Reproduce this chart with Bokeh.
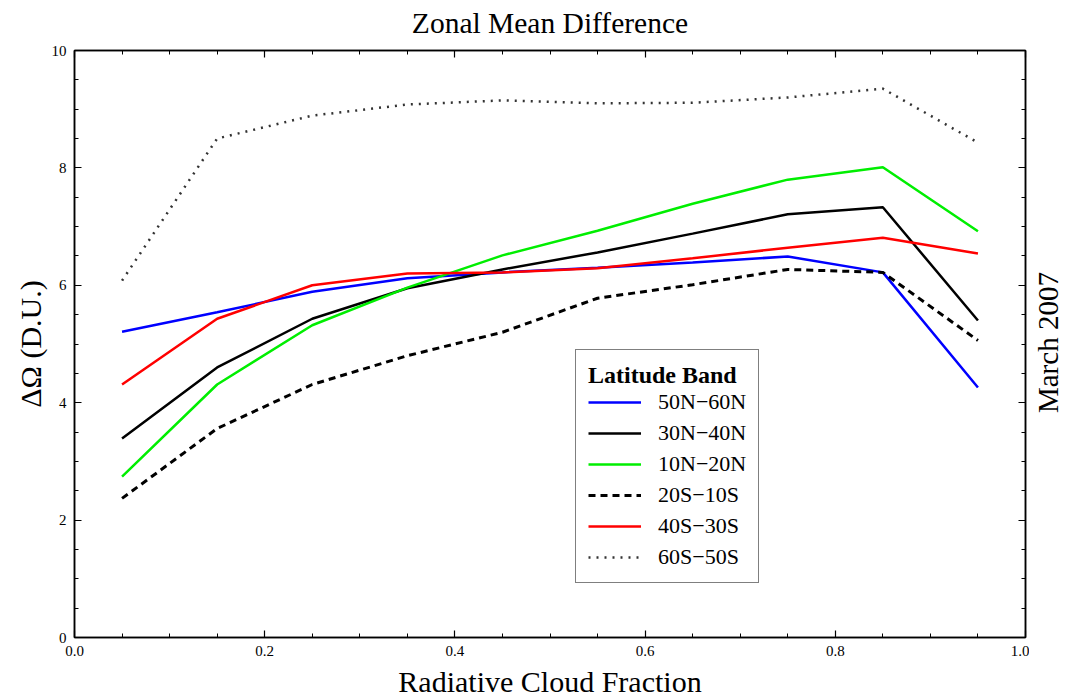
import math
from bokeh.plotting import figure
from bokeh.layouts import row, column
from bokeh.models import (LinearAxis, SingleIntervalTicker, Legend, LegendItem, Label,
                          Range1d, PrintfTickFormatter, CustomJSTickFormatter)
from bokeh.embed import file_html
from bokeh.resources import INLINE

# ---- data ----
cloud_fraction = [0.05, 0.15, 0.25, 0.35, 0.45, 0.55, 0.65, 0.75, 0.85, 0.95]
band_50N_60N = [5.21, 5.54, 5.89, 6.12, 6.22, 6.30, 6.39, 6.49, 6.22, 4.26]
band_30N_40N = [3.39, 4.60, 5.43, 5.95, 6.27, 6.56, 6.88, 7.21, 7.33, 5.40]
band_10N_20N = [2.74, 4.31, 5.32, 5.96, 6.51, 6.93, 7.39, 7.80, 8.01, 6.92]
band_20S_10S = [2.37, 3.56, 4.31, 4.80, 5.20, 5.78, 6.01, 6.27, 6.22, 5.06]
band_40S_30S = [4.31, 5.43, 6.00, 6.20, 6.22, 6.29, 6.46, 6.64, 6.81, 6.54]
band_60S_50S = [6.08, 8.50, 8.89, 9.08, 9.15, 9.10, 9.11, 9.20, 9.35, 8.43]

labels = ["50N\u221260N", "30N\u221240N", "10N\u221220N", "20S\u221210S", "40S\u221230S", "60S\u221250S"]
series = [band_50N_60N, band_30N_40N, band_10N_20N, band_20S_10S, band_40S_30S, band_60S_50S]
colors = ["#0000ff", "#000000", "#00ee00", "#000000", "#ff0000", "#333333"]
dashes = ["solid", "solid", "solid", "7 5", "solid", "2 6"]
widths = [2.5, 2.5, 2.5, 3, 2.5, 2.5]

FONT = "Liberation Serif"
TOP_H = 40
BOT_H = 35
MAIN_H = 700 - TOP_H - BOT_H          # 625
MAIN_W = 1029
SIDE_W = 1065 - MAIN_W               # 36
FRAME_TOP = 50                       # frame edges in page pixels
FRAME_BOTTOM = 637
FRAME_RIGHT = 1025

p = figure(width=MAIN_W, height=MAIN_H, output_backend="svg", toolbar_location=None,
           title=None,
           x_range=Range1d(0, 1), y_range=Range1d(0, 10),
           min_border_left=74, min_border_right=MAIN_W - FRAME_RIGHT,
           min_border_top=FRAME_TOP - TOP_H,
           min_border_bottom=TOP_H + MAIN_H - FRAME_BOTTOM)

p.xgrid.visible = False
p.ygrid.visible = False
p.outline_line_color = "black"
p.outline_line_width = 1.5
p.background_fill_color = "white"
p.border_fill_color = "white"

bottom = p.below[0]
left = p.left[0]

def style_axis(ax, show_labels=True):
    ax.axis_line_color = "black"
    ax.axis_line_width = 1.5
    ax.major_tick_in = 7
    ax.major_tick_out = 0
    ax.minor_tick_in = 4
    ax.minor_tick_out = 0
    ax.major_tick_line_color = "black"
    ax.minor_tick_line_color = "black"
    ax.major_tick_line_width = 1.2
    ax.major_label_text_font = FONT
    ax.major_label_text_color = "black"
    if show_labels:
        ax.major_label_text_font_size = "15px"
        ax.major_label_standoff = 8
    else:
        ax.formatter = CustomJSTickFormatter(code="return ''")
        ax.major_label_text_font_size = "1px"
        ax.major_label_standoff = 0

bottom.ticker = SingleIntervalTicker(interval=0.2, num_minor_ticks=4)
left.ticker = SingleIntervalTicker(interval=2, num_minor_ticks=4)
style_axis(bottom)
style_axis(left)
bottom.formatter = PrintfTickFormatter(format="%.1f")
left.axis_label = "\u0394\u03a9 (D.U.)"
left.axis_label_text_font = FONT
left.axis_label_text_font_size = "30px"
left.axis_label_text_font_style = "normal"
left.axis_label_text_color = "black"
left.axis_label_standoff = 2

top = LinearAxis(ticker=SingleIntervalTicker(interval=0.2, num_minor_ticks=4))
style_axis(top, show_labels=False)
p.add_layout(top, "above")
right = LinearAxis(ticker=SingleIntervalTicker(interval=2, num_minor_ticks=4))
style_axis(right, show_labels=False)
p.add_layout(right, "right")

items = []
for lab, ys, c, d, w in zip(labels, series, colors, dashes, widths):
    r = p.line(cloud_fraction, ys, line_color=c, line_width=w, line_dash=d)
    items.append(LegendItem(label=lab, renderers=[r]))

legend = Legend(items=items, location=(501, 54), title="Latitude Band",
                title_text_font=FONT, title_text_font_size="24px", title_text_font_style="bold",
                title_text_color="black",
                label_text_font=FONT, label_text_font_size="22px", label_text_color="black",
                border_line_color="black", border_line_width=1.5,
                glyph_width=53, glyph_height=20, label_height=20, spacing=5,
                padding=12, margin=0, title_standoff=0, label_standoff=17,
                background_fill_alpha=1.0)
p.add_layout(legend, "center")

def blank_panel(w, h):
    f = figure(width=w, height=h, output_backend="svg", toolbar_location=None,
               title=None,
               x_range=Range1d(0, w), y_range=Range1d(0, h),
               x_axis_location=None, y_axis_location=None,
               min_border_left=0, min_border_right=0, min_border_top=0, min_border_bottom=0)
    f.xgrid.visible = False
    f.ygrid.visible = False
    f.outline_line_color = None
    f.background_fill_color = "white"
    f.border_fill_color = "white"
    return f

# title strip
head = blank_panel(1065, TOP_H)
head.add_layout(Label(x=549.5, y=18, text="Zonal Mean Difference",
                      text_font=FONT, text_font_size="29.5px", text_color="black",
                      text_align="center", text_baseline="alphabetic"))

# right-hand rotated caption
side = blank_panel(SIDE_W, MAIN_H)
side.add_layout(Label(x=SIDE_W / 2, y=314, text="March 2007", angle=math.pi / 2,
                      text_font=FONT, text_font_size="29px", text_color="black",
                      text_align="center", text_baseline="middle"))

# x-axis caption strip
foot = blank_panel(1065, BOT_H)
foot.add_layout(Label(x=549.5, y=19, text="Radiative Cloud Fraction",
                      text_font=FONT, text_font_size="30px", text_color="black",
                      text_align="center", text_baseline="alphabetic"))

layout = column(head, row(p, side, spacing=0), foot, spacing=0)
open("out.html", "w").write(file_html(layout, INLINE))
